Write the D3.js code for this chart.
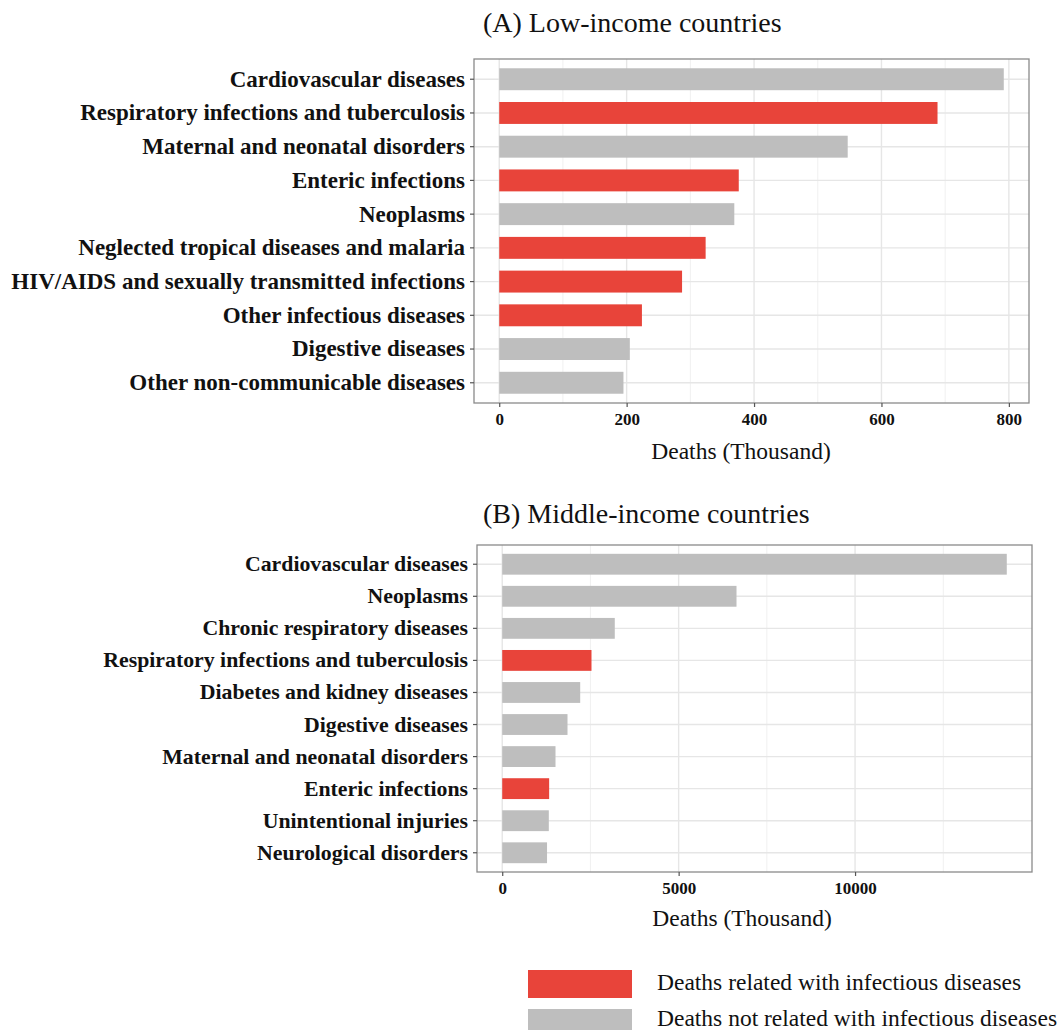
<!DOCTYPE html>
<html>
<head>
<meta charset="utf-8">
<script src="https://cdn.jsdelivr.net/npm/d3@7"></script>
<style>
  html, body { margin: 0; padding: 0; background: #fff; }
  svg { display: block; }
  text { font-family: "Liberation Serif", "Times New Roman", serif; fill: #111; }
</style>
</head>
<body>
<svg id="chart" width="1061" height="1030"></svg>
<script>
// Low-income countries: leading causes of death (thousand)
const lowCauses = [
  "Cardiovascular diseases",
  "Respiratory infections and tuberculosis",
  "Maternal and neonatal disorders",
  "Enteric infections",
  "Neoplasms",
  "Neglected tropical diseases and malaria",
  "HIV/AIDS and sexually transmitted infections",
  "Other infectious diseases",
  "Digestive diseases",
  "Other non-communicable diseases"
];
const lowDeaths = [792, 688, 547, 376, 369, 324, 287, 224, 205, 195];
const lowInfectious = [false, true, false, true, false, true, true, true, false, false];
const lowTicks = [0, 200, 400, 600, 800];
const lowMinor = [100, 300, 500, 700];

// Middle-income countries: leading causes of death (thousand)
const midCauses = [
  "Cardiovascular diseases",
  "Neoplasms",
  "Chronic respiratory diseases",
  "Respiratory infections and tuberculosis",
  "Diabetes and kidney diseases",
  "Digestive diseases",
  "Maternal and neonatal disorders",
  "Enteric infections",
  "Unintentional injuries",
  "Neurological disorders"
];
const midDeaths = [14300, 6640, 3190, 2530, 2210, 1850, 1510, 1330, 1320, 1270];
const midInfectious = [false, false, false, true, false, false, false, true, false, false];
const midTicks = [0, 5000, 10000];
const midMinor = [2500, 7500, 12500];

const legendLabels = [
  "Deaths related with infectious diseases",
  "Deaths not related with infectious diseases"
];

const RED = "#e8443a";
const GREY = "#bebebe";

const svg = d3.select("#chart");
svg.append("rect").attr("width", 1061).attr("height", 1030).attr("fill", "#fff");

function panel(opts) {
  const { causes, deaths, infectious, ticks, minor, box, title, titlePos, xTitlePos, labelSize } = opts;
  const max = d3.max(deaths);
  const x = d3.scaleLinear()
    .domain([-0.05 * max, 1.05 * max])
    .range([box.left, box.right]);
  const y = d3.scaleBand()
    .domain(causes)
    .range([box.top, box.bottom])
    .paddingInner(0.35)
    .paddingOuter(0.275);

  const g = svg.append("g");

  // minor vertical grid
  g.selectAll(".minor").data(minor).join("line")
    .attr("x1", d => x(d)).attr("x2", d => x(d))
    .attr("y1", box.top).attr("y2", box.bottom)
    .attr("stroke", "#f0f0f0").attr("stroke-width", 1);
  // major vertical grid
  g.selectAll(".major").data(ticks).join("line")
    .attr("x1", d => x(d)).attr("x2", d => x(d))
    .attr("y1", box.top).attr("y2", box.bottom)
    .attr("stroke", "#e6e6e6").attr("stroke-width", 1.4);
  // horizontal grid at each category
  g.selectAll(".hgrid").data(causes).join("line")
    .attr("x1", box.left).attr("x2", box.right)
    .attr("y1", d => y(d) + y.bandwidth() / 2).attr("y2", d => y(d) + y.bandwidth() / 2)
    .attr("stroke", "#e6e6e6").attr("stroke-width", 1.4);

  // bars
  g.selectAll(".bar").data(causes).join("rect")
    .attr("x", x(0))
    .attr("y", d => y(d))
    .attr("width", (d, i) => x(deaths[i]) - x(0))
    .attr("height", y.bandwidth())
    .attr("fill", (d, i) => infectious[i] ? RED : GREY);

  // panel border
  g.append("rect")
    .attr("x", box.left).attr("y", box.top)
    .attr("width", box.right - box.left).attr("height", box.bottom - box.top)
    .attr("fill", "none").attr("stroke", "#8a8a8a").attr("stroke-width", 1.3);

  // x axis
  const xAxis = d3.axisBottom(x).tickValues(ticks).tickSize(4).tickPadding(6).tickFormat(d3.format("d"));
  const xa = g.append("g").attr("transform", `translate(0,${box.bottom})`).call(xAxis);
  xa.select(".domain").remove();
  xa.selectAll(".tick line").attr("stroke", "#555").attr("stroke-width", 1.2);
  xa.selectAll(".tick text")
    .attr("font-family", "'Liberation Serif', serif")
    .attr("font-size", 17).attr("font-weight", "bold").attr("fill", "#111");

  // y axis
  const yAxis = d3.axisLeft(y).tickSize(4).tickPadding(5);
  const ya = g.append("g").attr("transform", `translate(${box.left},0)`).call(yAxis);
  ya.select(".domain").remove();
  ya.selectAll(".tick line").attr("stroke", "#555").attr("stroke-width", 1.2);
  ya.selectAll(".tick text")
    .attr("font-family", "'Liberation Serif', serif")
    .attr("font-size", labelSize).attr("font-weight", "bold").attr("fill", "#111");

  // titles
  svg.append("text").attr("x", titlePos[0]).attr("y", titlePos[1])
    .attr("font-size", 28).text(title);
  svg.append("text").attr("x", xTitlePos[0]).attr("y", xTitlePos[1])
    .attr("text-anchor", "middle").attr("font-size", 23.5).text("Deaths (Thousand)");
}

panel({
  causes: lowCauses, deaths: lowDeaths, infectious: lowInfectious,
  ticks: lowTicks, minor: lowMinor, labelSize: 23,
  box: { left: 474, right: 1029, top: 59, bottom: 403 },
  title: "(A) Low-income countries", titlePos: [483, 32], xTitlePos: [741, 459]
});

panel({
  causes: midCauses, deaths: midDeaths, infectious: midInfectious,
  ticks: midTicks, minor: midMinor, labelSize: 21.8,
  box: { left: 477, right: 1032, top: 545, bottom: 872 },
  title: "(B) Middle-income countries", titlePos: [483, 523], xTitlePos: [742, 926]
});

// legend
const legend = svg.append("g");
const legendColors = [RED, GREY];
legend.selectAll("rect").data(legendLabels).join("rect")
  .attr("x", 528).attr("y", (d, i) => 970 + i * 39)
  .attr("width", 104).attr("height", 28)
  .attr("fill", (d, i) => legendColors[i]);
legend.selectAll("text").data(legendLabels).join("text")
  .attr("x", 657).attr("y", (d, i) => 990 + i * 36)
  .attr("font-size", 23.5).text(d => d);
</script>
</body>
</html>
